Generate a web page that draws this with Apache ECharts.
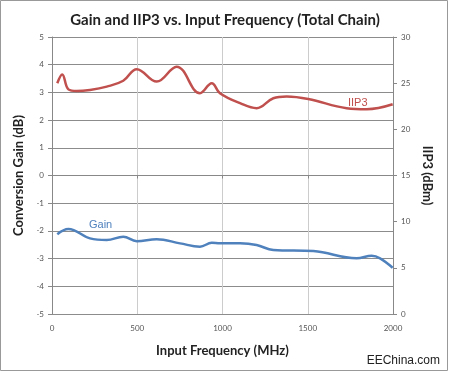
<!DOCTYPE html>
<html><head><meta charset="utf-8">
<script src="https://cdn.jsdelivr.net/npm/echarts@6/dist/echarts.min.js"></script>
<style>html,body{margin:0;padding:0;background:#fff}#c{width:450px;height:373px}</style>
</head><body><div id="c"></div>
<script>
var title = 'Gain and IIP3 vs. Input Frequency (Total Chain)';
var xTicks = [0, 500, 1000, 1500, 2000];
var freqIIP3 = [31, 60, 96, 145, 223, 321, 418, 497, 614, 731, 868, 937, 985, 1103, 1200, 1298, 1376, 1503, 1728, 1845, 1998];
var iip3 =     [24.99, 25.95, 24.33, 24.15, 24.27, 24.63, 25.26, 26.52, 25.17, 26.79, 23.91, 24.99, 23.91, 22.83, 22.29, 23.37, 23.55, 23.28, 22.29, 22.17, 22.71];
var freqGain = [31, 96, 223, 321, 418, 497, 614, 751, 868, 937, 985, 1103, 1200, 1298, 1533, 1787, 1875, 1924, 1998];
var gain =     [-2.12, -1.93, -2.27, -2.33, -2.21, -2.37, -2.30, -2.45, -2.57, -2.43, -2.45, -2.45, -2.51, -2.69, -2.73, -2.99, -2.90, -2.99, -3.33];

function pairs(xs, ys){ return xs.map(function(x,i){ return [x, ys[i]]; }); }
var font = 'Lato, "Open Sans", sans-serif';
var chart = echarts.init(document.getElementById('c'), null, {renderer:'canvas'});
chart.setOption({
  animation: false,
  textStyle: {fontFamily: font},
  title: {text: title, left: 'center', top: 8, textStyle: {fontFamily: font, fontSize: 15, fontWeight: 'bold', color: '#222'}},
  grid: {left: 52, right: 57, top: 37, bottom: 59},
  xAxis: {
    type: 'value', min: 0, max: 2000, interval: 500,
    name: 'Input Frequency (MHz)', nameLocation: 'middle', nameGap: 30,
    nameTextStyle: {fontFamily: font, fontSize: 13, fontWeight: 'bold', color: '#222'},
    axisLine: {show: true, lineStyle: {color: '#888'}},
    axisTick: {show: true, inside: false, length: 3, lineStyle: {color: '#888'}},
    axisLabel: {fontSize: 8, color: '#555', margin: 10, formatter: function(v){ return String(v); }},
    splitLine: {show: true, lineStyle: {color: '#cccccc'}}
  },
  yAxis: [{
    type: 'value', min: -5, max: 5, interval: 1, position: 'left',
    name: 'Conversion Gain (dB)', nameLocation: 'middle', nameGap: 21,
    nameTextStyle: {fontFamily: font, fontSize: 13, fontWeight: 'bold', color: '#222'},
    axisLine: {show: true, lineStyle: {color: '#888'}},
    axisTick: {show: true, length: 4, lineStyle: {color: '#888'}},
    axisLabel: {fontSize: 8, color: '#555', margin: 8},
    splitLine: {show: true, lineStyle: {color: '#8c8c8c'}}
  }, {
    type: 'value', min: 0, max: 30, interval: 5, position: 'right',
    name: 'IIP3 (dBm)', nameLocation: 'middle', nameGap: 28, nameRotate: -90,
    nameTextStyle: {fontFamily: font, fontSize: 13, fontWeight: 'bold', color: '#222'},
    axisLine: {show: true, lineStyle: {color: '#888'}},
    axisTick: {show: true, length: 4, lineStyle: {color: '#888'}},
    axisLabel: {fontSize: 8, color: '#555', margin: 8},
    splitLine: {show: false}
  }],
  series: [{
    name: 'IIP3', type: 'line', yAxisIndex: 1, data: pairs(freqIIP3, iip3),
    smooth: 0.4, showSymbol: false, lineStyle: {color: '#C0504D', width: 2.5}, itemStyle: {color: '#C0504D'}
  }, {
    name: 'Gain', type: 'line', yAxisIndex: 0, data: pairs(freqGain, gain),
    smooth: 0.4, showSymbol: false, lineStyle: {color: '#4F81BD', width: 2.5}, itemStyle: {color: '#4F81BD'}
  }],
  graphic: [
    {type: 'text', left: 89, top: 219, style: {text: 'Gain', fill: '#4F81BD', font: '11px Arial, "Liberation Sans", sans-serif'}},
    {type: 'text', left: 348, top: 97, style: {text: 'IIP3', fill: '#C0504D', font: '11px Arial, "Liberation Sans", sans-serif'}},
    {type: 'text', right: 10, top: 355, style: {text: 'EEChina.com', fill: '#222', font: '12px Arial, "Liberation Sans", sans-serif'}},
    {type: 'rect', shape: {x: 0.5, y: 0.5, width: 447, height: 370}, style: {fill: 'none', stroke: '#999', lineWidth: 1}, silent: true}
  ]
});
</script></body></html>
